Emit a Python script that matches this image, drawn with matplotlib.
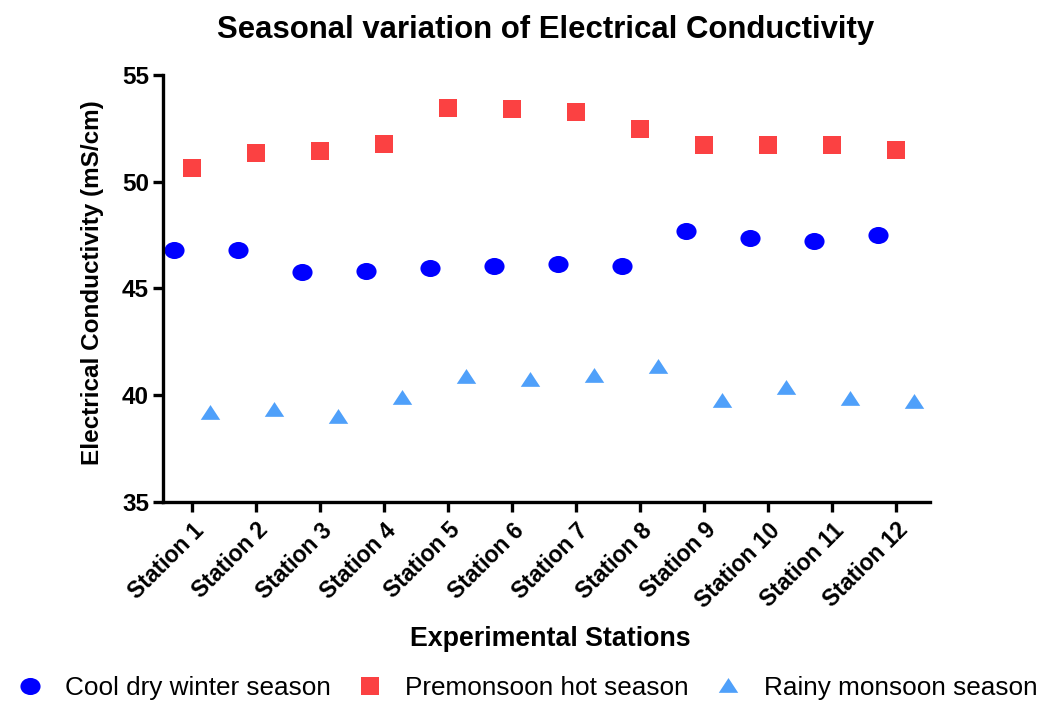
import matplotlib
matplotlib.use("Agg")
import matplotlib.pyplot as plt
import numpy as np
from matplotlib.path import Path
from matplotlib.transforms import Affine2D

stations = ["Station 1", "Station 2", "Station 3", "Station 4", "Station 5", "Station 6",
            "Station 7", "Station 8", "Station 9", "Station 10", "Station 11", "Station 12"]
winter = [46.78, 46.78, 45.75, 45.84, 45.97, 46.04, 46.17, 46.04, 47.70, 47.37, 47.21, 47.52]
premonsoon = [50.64, 51.34, 51.46, 51.78, 53.44, 53.40, 53.29, 52.48, 51.70, 51.71, 51.70, 51.51]
monsoon = [39.17, 39.29, 38.99, 39.89, 40.84, 40.73, 40.89, 41.31, 39.73, 40.32, 39.81, 39.69]
series_labels = ["Cool dry winter season", "Premonsoon hot season", "Rainy monsoon season"]
yticks = [35, 40, 45, 50, 55]

plt.rcParams['font.family'] = ['Liberation Sans', 'DejaVu Sans']

fig = plt.figure(figsize=(10.53, 7.01), dpi=100)
ax = fig.add_axes([163/1053, 1-502/701, (930-163)/1053, (502-75)/701])

x = np.arange(len(stations))
off = 0.28
ellipse = Path.unit_circle().transformed(Affine2D().scale(1.18, 1.0))
tri = Path([(0, 1), (-1.15, -0.75), (1.15, -0.75), (0, 1)],
           [Path.MOVETO, Path.LINETO, Path.LINETO, Path.CLOSEPOLY])

ax.plot(x - off, winter, linestyle='none', marker=ellipse, markersize=14.5,
        color='#0000ff', markeredgewidth=0, label=series_labels[0])
ax.plot(x, premonsoon, linestyle='none', marker='s', markersize=13.2,
        color='#fb4142', markeredgewidth=0, label=series_labels[1])
ax.plot(x + off, monsoon, linestyle='none', marker=tri, markersize=14.0,
        color='#4fa0fa', markeredgewidth=0, label=series_labels[2])

ax.set_xlim(-0.453, 11.53)
ax.set_ylim(35, 55)
ax.set_yticks(yticks)
ax.set_yticklabels([str(v) for v in yticks], fontsize=17.5, fontweight='bold')
ax.set_xticks(x)
ax.set_xticklabels(stations, rotation=45, ha='right', rotation_mode='anchor',
                   fontsize=16.5, fontweight='bold')
for s in ['top', 'right']:
    ax.spines[s].set_visible(False)
for s in ['left', 'bottom']:
    ax.spines[s].set_linewidth(2.4)
ax.tick_params(axis='both', width=2.4, length=7, pad=3)
ax.tick_params(axis='x', pad=5)

ax.set_xlabel("Experimental Stations", fontsize=19.3, fontweight='bold')
ax.xaxis.set_label_coords((550-163)/767, (502-626)/427)
ax.set_ylabel("Electrical Conductivity (mS/cm)", fontsize=17.5, fontweight='bold')
ax.yaxis.set_label_coords((104-163)/767, (502-283)/427)
fig.text(546/1053, 1-30/701, "Seasonal variation of Electrical Conductivity", ha='center',
         va='center', fontsize=22.4, fontweight='bold')

leg = fig.legend(loc='center', bbox_to_anchor=(527/1053, 1-688/701), ncol=3, frameon=False,
                 fontsize=18.8, handletextpad=0.85, columnspacing=1.0, handlelength=1.0,
                 borderaxespad=0, borderpad=0)

fig.savefig("out.png", dpi=100)
